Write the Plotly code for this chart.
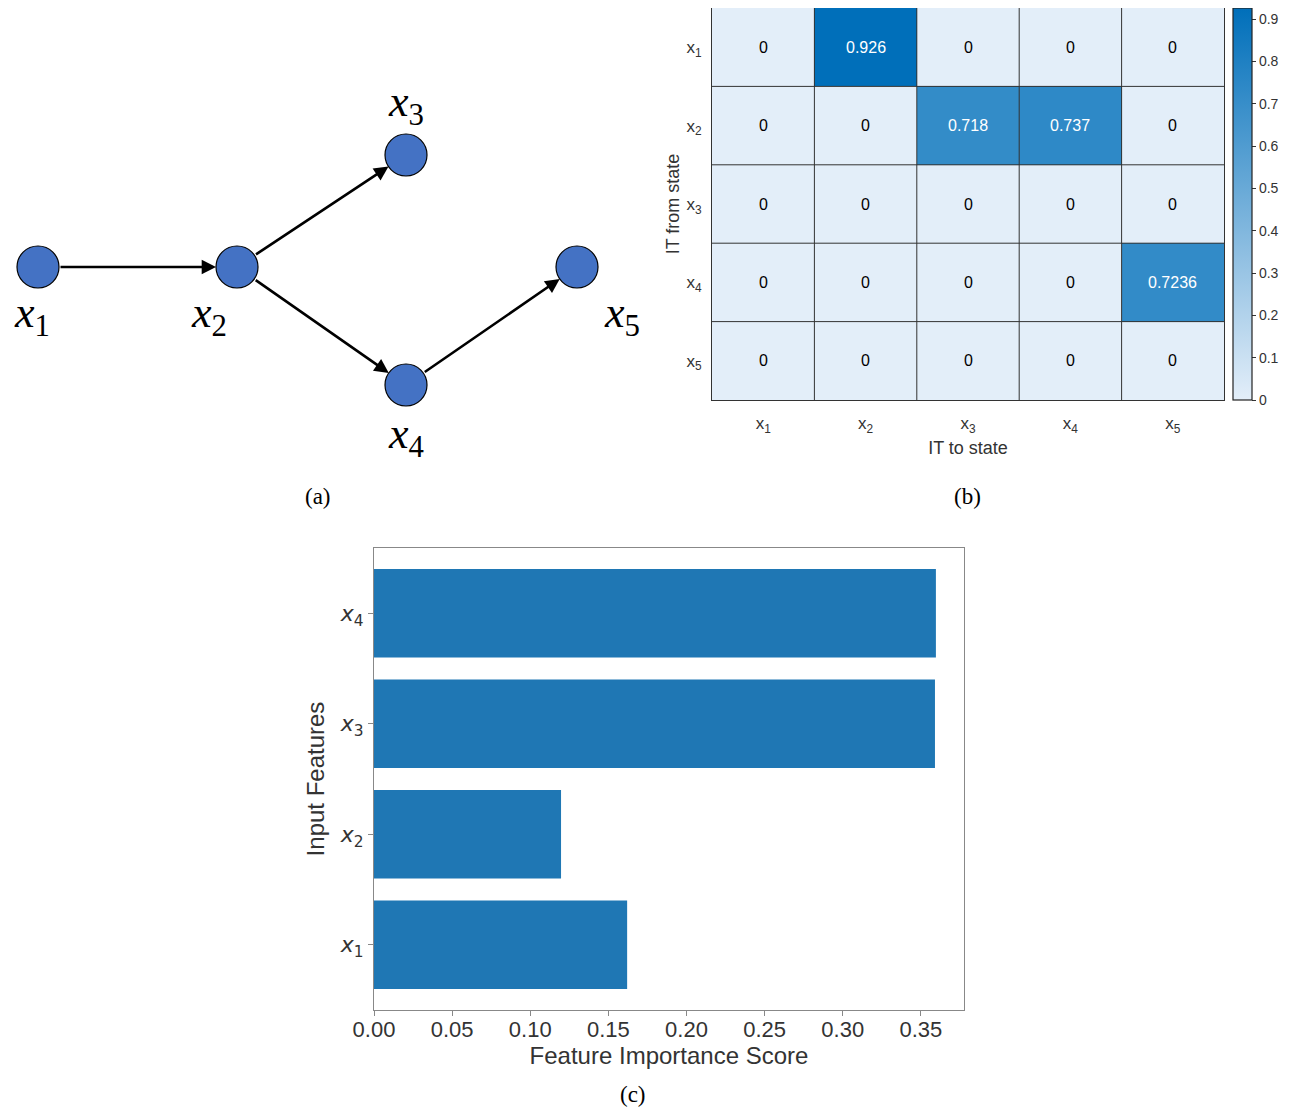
import math
import plotly.graph_objects as go

# ---------------- data ----------------
node_names = ["x1", "x2", "x3", "x4", "x5"]
node_x = [38, 237, 406, 406, 577]
node_y = [267, 267, 155, 385, 267]
edges = [(0, 1), (1, 2), (1, 3), (3, 4)]

states = ["1", "2", "3", "4", "5"]
it_matrix = [
    [0, 0.926, 0, 0, 0],
    [0, 0, 0.718, 0.737, 0],
    [0, 0, 0, 0, 0],
    [0, 0, 0, 0, 0.7236],
    [0, 0, 0, 0, 0],
]
cbar_ticks = [0, 0.1, 0.2, 0.3, 0.4, 0.5, 0.6, 0.7, 0.8, 0.9]

features = ["1", "2", "3", "4"]
importance = [0.162, 0.1197, 0.359, 0.3596]
imp_ticks = [0.0, 0.05, 0.10, 0.15, 0.20, 0.25, 0.30, 0.35]

# page body has an 8px margin; the figure sits inside it
OFF = 8
W, H = 1298 - 2 * OFF, 1115 - 2 * OFF
def px(v): return (v - OFF) / W
def py(v): return 1 - (v - OFF) / H

fig = go.Figure()

# ---------------- panel (a): graph ----------------
R = 21
annotations = []
for s, d in edges:
    dx = node_x[d] - node_x[s]
    dy = node_y[d] - node_y[s]
    L = math.hypot(dx, dy)
    ux, uy = dx / L, dy / L
    annotations.append(dict(
        x=node_x[d] - R * ux, y=node_y[d] - R * uy,
        ax=node_x[s] + R * ux, ay=node_y[s] + R * uy,
        xref="x", yref="y", axref="x", ayref="y",
        showarrow=True, arrowhead=2, arrowsize=1.1, arrowwidth=2.6,
        arrowcolor="black", standoff=0, startstandoff=0, text=""))

fig.add_trace(go.Scatter(
    x=node_x, y=node_y, mode="markers",
    marker=dict(size=2 * R, color="#4472C4", line=dict(color="black", width=1.2)),
    xaxis="x", yaxis="y", showlegend=False, hoverinfo="skip"))

label_offsets = [(-6, 48), (-28, 48), (0, -51), (0, 51), (45, 48)]
for i, n in enumerate(node_names):
    ox, oy = label_offsets[i]
    annotations.append(dict(
        x=node_x[i] + ox, y=node_y[i] + oy, xref="x", yref="y", showarrow=False,
        xanchor="center", yanchor="middle",
        text=f"<i>x</i><sub>{n[1]}</sub>",
        font=dict(family="Liberation Serif", size=44, color="black")))

# ---------------- panel (b): heatmap ----------------
zmax = max(max(r) for r in it_matrix)
fig.add_trace(go.Heatmap(
    z=it_matrix, x=list(range(5)), y=list(range(5)),
    zmin=0, zmax=zmax,
    colorscale=[[0, "#e3eef9"], [1, "#006fba"]],
    xaxis="x2", yaxis="y2", hoverinfo="skip",
    colorbar=dict(
        x=px(1233), xanchor="left", y=py(204), yanchor="middle",
        lenmode="pixels", len=392, thickness=19, thicknessmode="pixels",
        outlinecolor="#222", outlinewidth=1.2, xpad=0, ypad=0,
        tickvals=cbar_ticks, ticktext=[f"{t:g}" for t in cbar_ticks],
        ticks="outside", ticklen=4, tickcolor="#333",
        tickfont=dict(family="Liberation Sans", size=14, color="#333"))))

for i, row in enumerate(it_matrix):
    for j, v in enumerate(row):
        annotations.append(dict(
            x=j, y=i, xref="x2", yref="y2", showarrow=False, text=f"{v:g}",
            font=dict(family="Liberation Sans", size=16,
                      color="white" if v > 0.5 * zmax else "black")))

shapes = []
for k in range(1, 5):
    shapes.append(dict(type="line", xref="x2", yref="y2", x0=k - 0.5, x1=k - 0.5,
                       y0=-0.5, y1=4.5, line=dict(color="#333", width=1)))
    shapes.append(dict(type="line", xref="x2", yref="y2", y0=k - 0.5, y1=k - 0.5,
                       x0=-0.5, x1=4.5, line=dict(color="#333", width=1)))

# ---------------- panel (c): bars ----------------
fig.add_trace(go.Bar(
    x=importance, y=list(range(len(features))), orientation="h",
    width=0.8, marker=dict(color="#1f77b4", line=dict(width=0)),
    xaxis="x3", yaxis="y3", showlegend=False, hoverinfo="skip"))

# panel captions
for t, xx, yy in [("(a)", 318, 496), ("(b)", 967, 496), ("(c)", 633, 1094)]:
    annotations.append(dict(x=px(xx), y=py(yy), xref="paper", yref="paper",
                            xanchor="center", yanchor="middle",
                            showarrow=False, text=t,
                            font=dict(family="Liberation Serif", size=23, color="black")))

fig.update_layout(
    width=W, height=H, margin=dict(l=0, r=0, t=0, b=0, autoexpand=False),
    paper_bgcolor="white", plot_bgcolor="white", showlegend=False,
    annotations=annotations, shapes=shapes,
    xaxis=dict(domain=[px(8), px(658)], range=[8, 658], visible=False),
    yaxis=dict(domain=[py(478), py(8)], range=[478, 8], visible=False),
    xaxis2=dict(domain=[px(712), px(1224)], range=[-0.5, 4.5], anchor="y2",
                tickvals=list(range(5)), ticktext=[f"x<sub>{s}</sub>" for s in states],
                ticks="", ticklabelstandoff=8, showline=True, mirror=True,
                linecolor="#333", linewidth=1, showgrid=False, zeroline=False,
                tickfont=dict(family="Liberation Sans", size=17, color="#333"),
                title=dict(text="IT to state", standoff=6,
                           font=dict(family="Liberation Sans", size=18, color="#333"))),
    yaxis2=dict(domain=[py(400), py(8)], range=[4.5, -0.5], anchor="x2",
                tickvals=list(range(5)), ticktext=[f"x<sub>{s}</sub>" for s in states],
                ticks="", ticklabelstandoff=6, showline=True, mirror=True,
                linecolor="#333", linewidth=1, showgrid=False, zeroline=False,
                tickfont=dict(family="Liberation Sans", size=17, color="#333"),
                title=dict(text="IT from state", standoff=2,
                           font=dict(family="Liberation Sans", size=18, color="#333"))),
    xaxis3=dict(domain=[px(374), px(964)], range=[0, max(importance) * 1.05], anchor="y3",
                tickvals=imp_ticks, ticktext=[f"{t:.2f}" for t in imp_ticks],
                ticks="outside", ticklen=5, tickcolor="#888",
                ticklabelstandoff=-5,
                showline=True, mirror=True, linecolor="#888", linewidth=1,
                showgrid=False, zeroline=False,
                tickfont=dict(family="Liberation Sans", size=22, color="#333"),
                title=dict(text="Feature Importance Score", standoff=0,
                           font=dict(family="Liberation Sans", size=24, color="#333"))),
    yaxis3=dict(domain=[py(1010), py(548)], range=[-0.59, 3.59], anchor="x3",
                tickvals=list(range(len(features))),
                ticktext=[f"<i>x</i><sub>{f}</sub>" for f in features],
                ticks="outside", ticklen=5, tickcolor="#888",
                showline=True, mirror=True, linecolor="#888", linewidth=1,
                showgrid=False, zeroline=False,
                tickfont=dict(family="DejaVu Sans", size=22, color="#333"),
                title=dict(text="Input Features", standoff=8,
                           font=dict(family="Liberation Sans", size=24, color="#333"))),
)

fig.write_html("out.html")
